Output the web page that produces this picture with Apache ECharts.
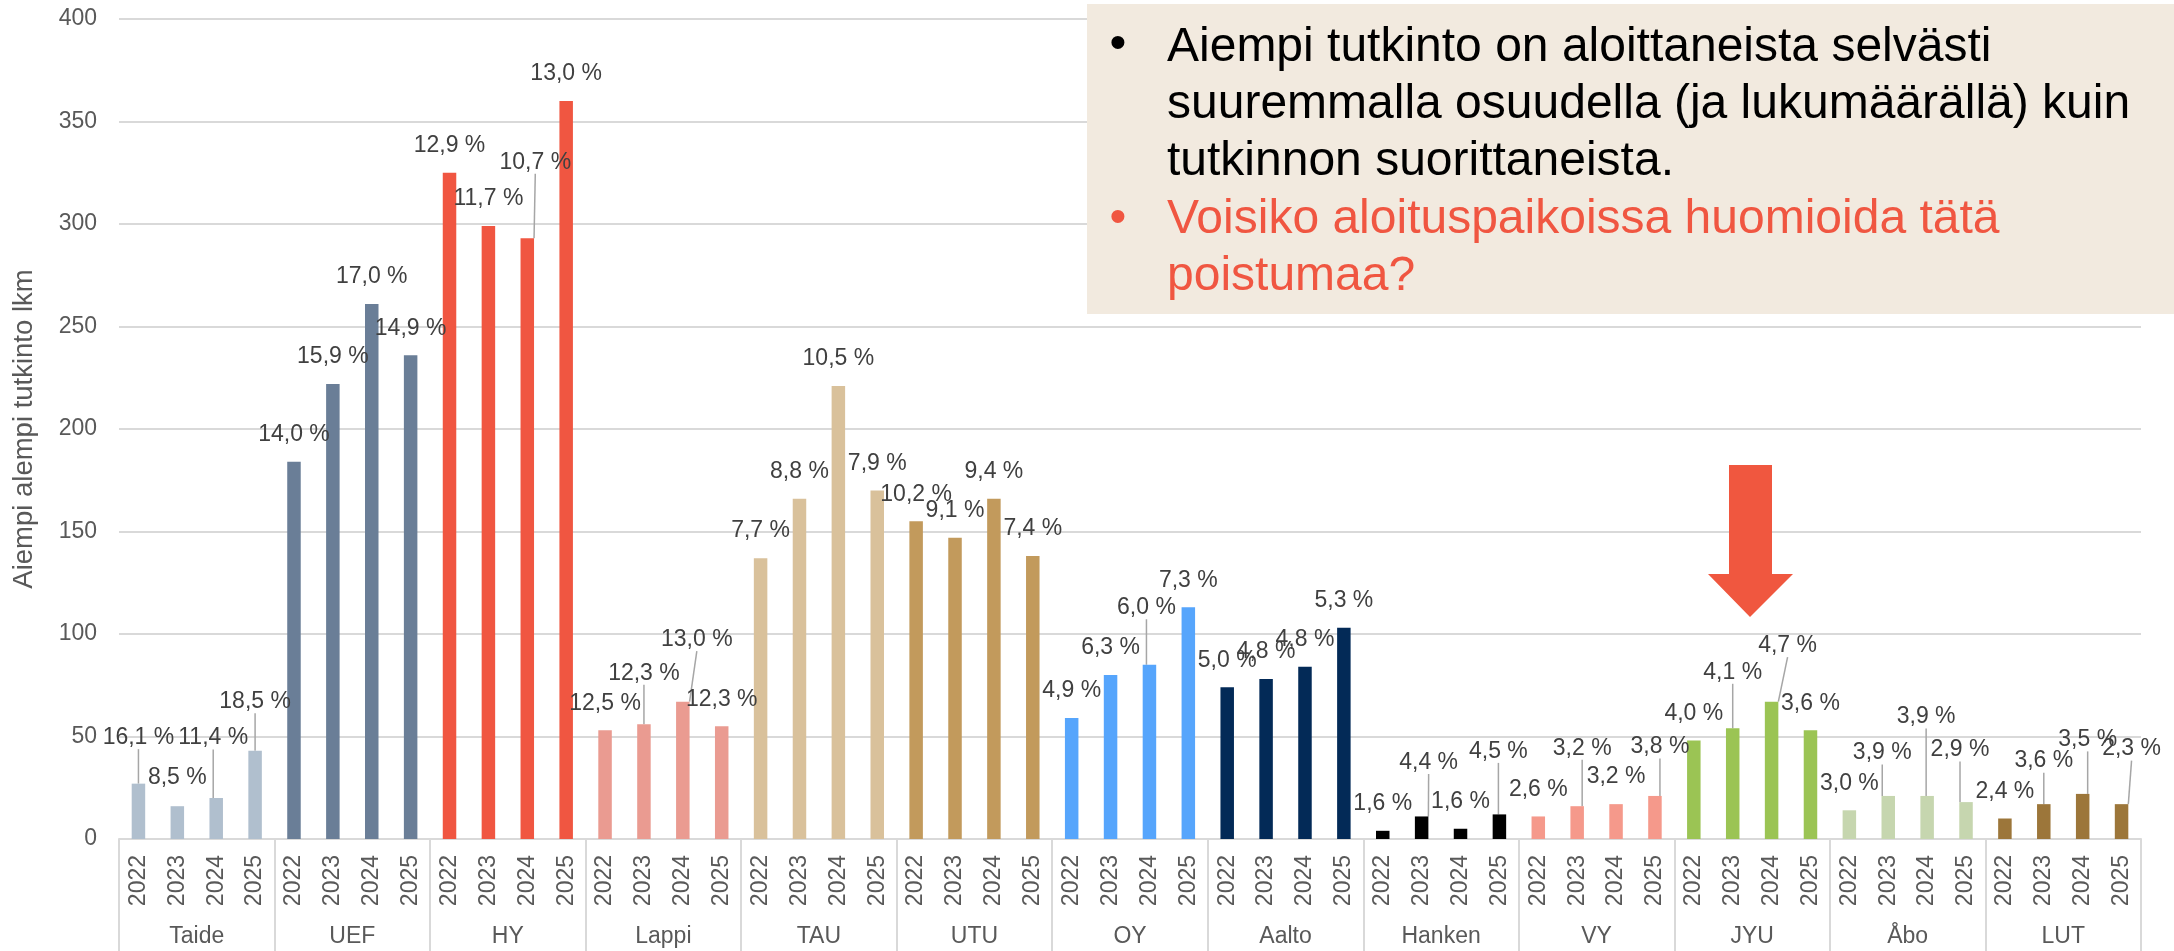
<!DOCTYPE html>
<html>
<head>
<meta charset="utf-8">
<script src="https://cdn.jsdelivr.net/npm/echarts@6/dist/echarts.min.js"></script>
<style>
  html, body { margin: 0; padding: 0; background: #fff; }
  #chart { width: 2174px; height: 951px; }
</style>
</head>
<body>
<div id="chart"></div>
<script>
const schools = ['Taide', 'UEF', 'HY', 'Lappi', 'TAU', 'UTU', 'OY', 'Aalto', 'Hanken', 'VY', 'JYU', 'Åbo', 'LUT']
const years = ['2022', '2023', '2024', '2025']

// aiempi alempi tutkinto, lkm — 4 vuotta per yliopisto
const counts = [
  27, 16, 20, 43,     // Taide
  184, 222, 261, 236, // UEF
  325, 299, 293, 360, // HY
  53, 56, 67, 55,     // Lappi
  137, 166, 221, 170, // TAU
  155, 147, 166, 138, // UTU
  59, 80, 85, 113,    // OY
  74, 78, 84, 103,    // Aalto
  4, 11, 5, 12,       // Hanken
  11, 16, 17, 21,     // VY
  48, 54, 67, 53,     // JYU
  14, 21, 21, 18,     // Åbo
  10, 17, 22, 17,     // LUT
]

// osuus aloittaneista, %
const shares = [
  16.1, 8.5, 11.4, 18.5,
  14.0, 15.9, 17.0, 14.9,
  12.9, 11.7, 10.7, 13.0,
  12.5, 12.3, 13.0, 12.3,
  7.7, 8.8, 10.5, 7.9,
  10.2, 9.1, 9.4, 7.4,
  4.9, 6.3, 6.0, 7.3,
  5.0, 4.8, 4.8, 5.3,
  1.6, 4.4, 1.6, 4.5,
  2.6, 3.2, 3.2, 3.8,
  4.0, 4.1, 4.7, 3.6,
  3.0, 3.9, 3.9, 2.9,
  2.4, 3.6, 3.5, 2.3,
]

const schoolColors = [
  '#B0BFCE', '#6A7E97', '#F05641', '#EA9B91', '#D9C19B', '#C29A5C', '#56A5FC',
  '#032A57', '#000000', '#F5998B', '#9BC454', '#C6D6AF', '#9C763A',
]

// manually moved labels (dx, dy from default spot), like in the Excel original
const nudge = {
  0: [0, -19], 1: [0, -2], 2: [-3, -33], 3: [0, -22],
  10: [8, -49], 13: [0, -24], 14: [14, -35],
  26: [-3, -30], 33: [7, -27], 35: [-1, -36],
  37: [5, -31], 39: [5, -22], 41: [0, -29], 42: [16, -29],
  45: [-6, -16], 46: [-1, -52], 47: [-6, -25],
  49: [0, -16], 50: [5, -27], 51: [10, -28],
}
const leaders = [0, 2, 3, 10, 13, 14, 26, 33, 35, 37, 39, 41, 42, 45, 46, 47, 49, 50, 51]

const FONT = "'Liberation Sans', Arial, sans-serif"
const chart = echarts.init(document.getElementById('chart'))

const yearCats = schools.flatMap(() => years)

chart.setOption({
  animation: false,
  textStyle: { fontFamily: FONT },
  grid: { left: 119, right: 33, top: 19, bottom: 112, containLabel: false, outerBoundsMode: 'none' },
  xAxis: [
    {
      type: 'category',
      data: yearCats,
      axisLine: { lineStyle: { color: '#D9D9D9', width: 2 } },
      axisTick: { show: false },
      axisLabel: { interval: 0, rotate: 90, margin: 16, fontSize: 23, color: '#595959', fontFamily: FONT },
    },
    {
      type: 'category',
      data: schools,
      position: 'bottom',
      offset: 0,
      axisLine: { show: false },
      axisTick: { show: true, interval: 0, length: 115, lineStyle: { color: '#D9D9D9', width: 2 } },
      axisLabel: { interval: 0, margin: 86, fontSize: 23, color: '#595959', fontFamily: FONT },
    },
  ],
  yAxis: {
    type: 'value',
    min: 0,
    max: 400,
    interval: 50,
    name: 'Aiempi alempi tutkinto lkm',
    nameLocation: 'middle',
    nameGap: 81,
    nameTextStyle: { fontSize: 27.5, color: '#595959', fontFamily: FONT },
    axisLine: { show: false },
    axisTick: { show: false },
    axisLabel: { fontSize: 23, color: '#595959', margin: 22, fontFamily: FONT },
    splitLine: { lineStyle: { color: '#D9D9D9', width: 2 } },
  },
  series: [
    {
      type: 'bar',
      xAxisIndex: 0,
      barWidth: 13.5,
      data: counts.map((v, i) => ({
        value: v,
        itemStyle: { color: schoolColors[Math.floor(i / 4)] },
        labelLine: { show: leaders.includes(i) },
      })),
      label: {
        show: true,
        position: 'top',
        fontSize: 23,
        color: '#404040',
        fontFamily: FONT,
        formatter: (p) => shares[p.dataIndex].toFixed(1).replace('.', ',') + ' %',
      },
      labelLine: { lineStyle: { color: '#A6A6A6', width: 1.5 } },
      labelLayout: (p) => {
        const r = p.rect
        const cx = r.x + r.width / 2
        const d = nudge[p.dataIndex] || [0, 0]
        return { x: cx + d[0], y: r.y - 27 + d[1], align: 'center', verticalAlign: 'middle' }
      },
    },
  ],
  graphic: [
    {
      type: 'rect',
      z: 50,
      shape: { x: 1087, y: 4, width: 1087, height: 310 },
      style: { fill: '#F2EADF' },
    },
    {
      type: 'text',
      z: 51,
      x: 1118,
      y: 45,
      style: { text: '•', font: '48px ' + FONT, fill: '#000', align: 'center', verticalAlign: 'middle' },
    },
    {
      type: 'text',
      z: 51,
      x: 1167,
      y: 19,
      style: {
        text: 'Aiempi tutkinto on aloittaneista selvästi\nsuuremmalla osuudella (ja lukumäärällä) kuin\ntutkinnon suorittaneista.',
        font: '48px ' + FONT,
        lineHeight: 57,
        fill: '#000',
      },
    },
    {
      type: 'text',
      z: 51,
      x: 1118,
      y: 219,
      style: { text: '•', font: '48px ' + FONT, fill: '#F05641', align: 'center', verticalAlign: 'middle' },
    },
    {
      type: 'text',
      z: 51,
      x: 1167,
      y: 191,
      style: {
        text: 'Voisiko aloituspaikoissa huomioida tätä\npoistumaa?',
        font: '48px ' + FONT,
        lineHeight: 57,
        fill: '#F05641',
      },
    },
    {
      // arrow pointing at JYU
      type: 'polygon',
      z: 50,
      shape: {
        points: [[1729, 465], [1772, 465], [1772, 574], [1793, 574], [1750, 617], [1708, 574], [1729, 574]],
      },
      style: { fill: '#F0573F' },
    },
  ],
})
</script>
</body>
</html>
